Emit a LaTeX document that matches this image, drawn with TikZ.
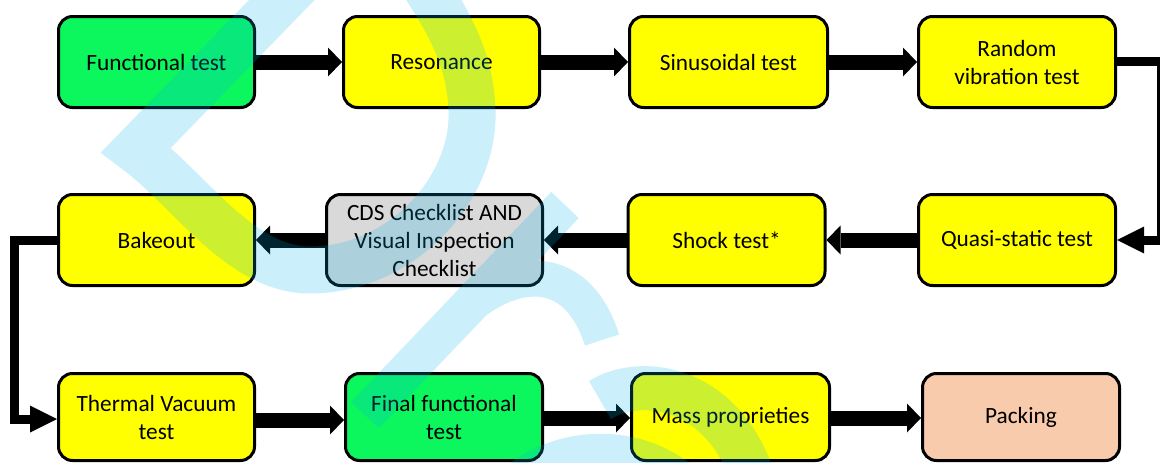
\documentclass[tikz,border=0pt]{standalone}
\usepackage{fontspec}
\setmainfont{Carlito}
\usetikzlibrary{arrows.meta}
\definecolor{boxgreen}{RGB}{12,246,94}
\definecolor{boxyellow}{RGB}{255,255,0}
\definecolor{boxgray}{RGB}{217,217,217}
\definecolor{boxpeach}{RGB}{248,203,173}
\definecolor{wmark}{RGB}{0,176,240}
\begin{document}
\begin{tikzpicture}[x=1pt,y=-1pt,
  stepbox/.style={draw=black, line width=3pt, rounded corners=14pt, align=center,
    font=\fontsize{23.3}{28}\selectfont, inner sep=0pt, text=black,
    minimum width=196pt, minimum height=91pt},
  flow/.style={line width=15pt, -{Triangle[length=14pt,width=29pt,line width=0pt]}},
  elbow/.style={line width=9pt, line join=miter, -{Triangle[length=27pt,width=27pt,line width=0pt]}},
  wm/.style={draw=wmark}]
\fill[white] (0,0) rectangle (1160,463);
\useasboundingbox (0,0) rectangle (1160,463);
% row 1
\node[stepbox, fill=boxgreen] (func) at (156.5,62) {Functional test};
\node[stepbox, fill=boxyellow] (res) at (441.5,62) {Resonance};
\node[stepbox, fill=boxyellow, minimum width=198pt] (sin) at (728.5,62) {Sinusoidal test};
\node[stepbox, fill=boxyellow, minimum width=197pt] (rand) at (1017,62) {Random\\vibration test};
% row 2
\node[stepbox, fill=boxyellow] (bake) at (156.5,240) {Bakeout};
\node[stepbox, fill=boxgray, minimum width=216pt] (cds) at (434.5,240) {CDS Checklist AND\\Visual Inspection\\Checklist};
\node[stepbox, fill=boxyellow, minimum width=197pt] (shock) at (726.5,240) {Shock test*};
\node[stepbox, fill=boxyellow, minimum width=197pt] (quasi) at (1017,240) {Quasi-static test};
% row 3
\node[stepbox, fill=boxyellow, minimum height=87pt] (therm) at (156.5,417) {Thermal Vacuum\\test};
\node[stepbox, fill=boxgreen, minimum height=87pt, minimum width=197pt] (final) at (444,417) {Final functional\\test};
\node[stepbox, fill=boxyellow, minimum height=87pt, minimum width=198pt] (mass) at (730.5,417) {Mass proprieties};
\node[stepbox, fill=boxpeach, minimum height=87pt, minimum width=197pt] (pack) at (1021,417) {Packing};
% straight connectors
\draw[flow] (func.east) -- (res.west);
\draw[flow] (res.east) -- (sin.west);
\draw[flow] (sin.east) -- (rand.west);
\draw[flow] (quasi.west) -- (shock.east);
\draw[flow] (shock.west) -- (cds.east);
\draw[flow] (cds.west) -- (bake.east);
\draw[flow] ([yshift=-3pt]therm.east) -- ([yshift=-3pt]final.west);
\draw[flow] ([yshift=-1pt]final.east) -- ([yshift=-1pt]mass.west);
\draw[flow] ([yshift=-1pt]mass.east) -- ([yshift=-1pt]pack.west);
% elbow connectors
\coordinate (rtop) at (1161.5,61);
\coordinate (rbot) at (1161.5,240);
\draw[elbow] ([yshift=1pt]rand.east) -- (rtop) -- (rbot) -- (quasi.east);
\coordinate (ltop) at (14,240);
\coordinate (lbot) at (14,419);
\draw[elbow] (bake.west) -- (ltop) -- (lbot) -- ([yshift=-2pt]therm.west);
% watermark
\begin{scope}[transparency group, opacity=0.2]
\draw[wm, line width=47pt, line join=miter] (311,-30) -- (136,150)
  .. controls (190,190) and (240,270) .. (310,270)
  .. controls (400,270) and (475,190) .. (472,110)
  .. controls (470,50) and (440,10) .. (415,-30);
\draw[wm, line width=38pt] (365,415) -- (565,205);
\draw[wm, line width=36pt] (470,305) .. controls (525,262) and (580,270) .. (602,340);
\draw[wm, line width=44pt] (600,400) .. controls (640,375) and (720,385) .. (752,475);
\draw[wm, line width=40pt] (515,485) .. controls (560,445) and (640,440) .. (690,490);
\end{scope}
\end{tikzpicture}
\end{document}
